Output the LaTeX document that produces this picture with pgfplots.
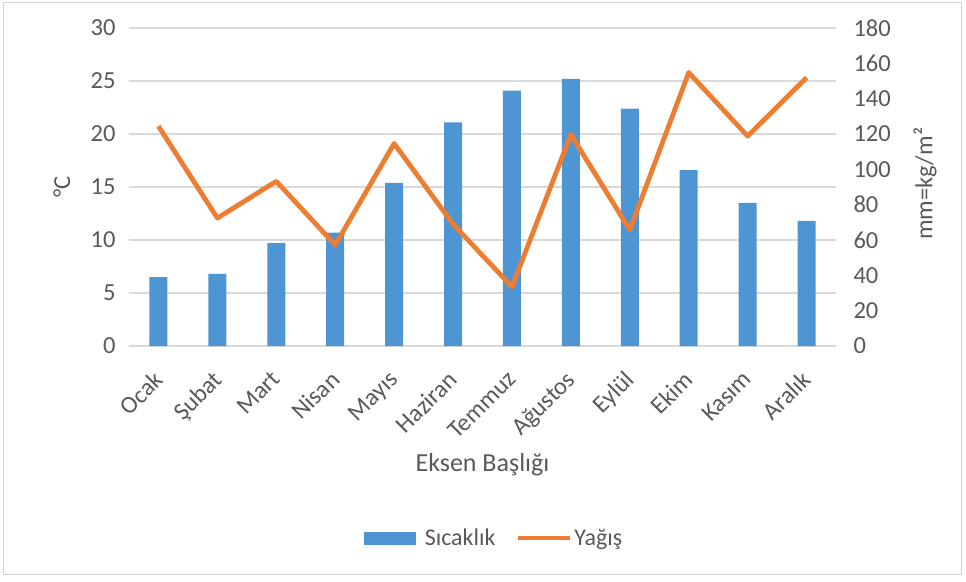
\documentclass[border=0pt]{standalone}
\usepackage{pgfplots}
\pgfplotsset{compat=1.18}
\usepackage{fontspec}
\setmainfont{Carlito}
\definecolor{txt}{HTML}{595959}
\definecolor{grd}{HTML}{D9D9D9}
\definecolor{barc}{HTML}{4E95D3}
\definecolor{linec}{HTML}{ED7D31}
\pgfplotstableread{
x t r
0 6.5 124.4
1 6.8 72.4
2 9.7 93.2
3 10.7 57.2
4 15.4 114.6
5 21.1 69
6 24.1 33.5
7 25.2 119.7
8 22.4 65.7
9 16.6 154.8
10 13.5 118.8
11 11.8 151.9
}\data
\begin{document}
\begin{tikzpicture}[font=\fontsize{24.5}{28}\selectfont]
\begin{axis}[
  scale only axis, width=707pt, height=318pt,
  xmin=-0.5, xmax=11.5, ymin=0, ymax=30,
  ytick={0,5,...,30},
  xtick={0,...,11},
  xticklabels={Ocak,Şubat,Mart,Nisan,Mayıs,Haziran,Temmuz,Ağustos,Eylül,Ekim,Kasım,Aralık},
  x tick label style={xshift=-6pt, yshift=-22pt, rotate=45, anchor=north east, inner sep=1pt},
  axis y line*=left, axis x line*=bottom,
  axis line style={draw=grd}, 
  y axis line style={draw=none},
  major tick length=0pt,
  ymajorgrids, grid style={grd, line width=1.2pt},
  x axis line style={grd, line width=1.2pt},
  ticklabel style={text=txt},
  /pgf/number format/assume math mode=true,
  yticklabel style={xshift=-10pt},
  ylabel={°C}, ylabel style={text=txt, at={(axis description cs:-0.095,0.5)}, anchor=center},
  xlabel={Eksen Başlığı}, xlabel style={text=txt, font=\fontsize{26}{30}\selectfont, at={(axis description cs:0.5,-0.374)}, anchor=center},
]
\addplot[ybar, bar width=18pt, fill=barc, draw=none] table[x=x, y=t] {\data};
\end{axis}
\begin{axis}[
  scale only axis, width=707pt, height=318pt,
  xmin=-0.5, xmax=11.5, ymin=0, ymax=180,
  ytick={0,20,...,180},
  axis y line*=right, axis x line=none,
  y axis line style={draw=none},
  major tick length=0pt,
  ticklabel style={text=txt},
  /pgf/number format/assume math mode=true,
  yticklabel style={xshift=14pt, anchor=west},
  ylabel={mm=kg/m²}, ylabel style={text=txt, at={(axis description cs:1.126,0.51)}, anchor=center},
  legend columns=2,
  legend style={draw=none, fill=none, text=txt, font=\fontsize{24}{28}\selectfont, at={(axis description cs:0.512,-0.604)}, anchor=center,
    /tikz/every even column/.append style={column sep=18pt}},
  legend image code/.code={\draw[#1] (0pt,0pt) -- (52pt,0pt);},
]
\addlegendimage{barc, line width=13pt}
\addlegendentry{Sıcaklık}
\addplot[linec, line width=4.8pt, line join=round] table[x=x, y=r] {\data};
\addlegendentry{Yağış}
\end{axis}
\draw[gray!35, line width=1pt] (-125pt,-228pt) rectangle (832pt,343pt);
\useasboundingbox (-129pt,-235pt) rectangle (837pt,346pt);
\end{tikzpicture}
\end{document}
